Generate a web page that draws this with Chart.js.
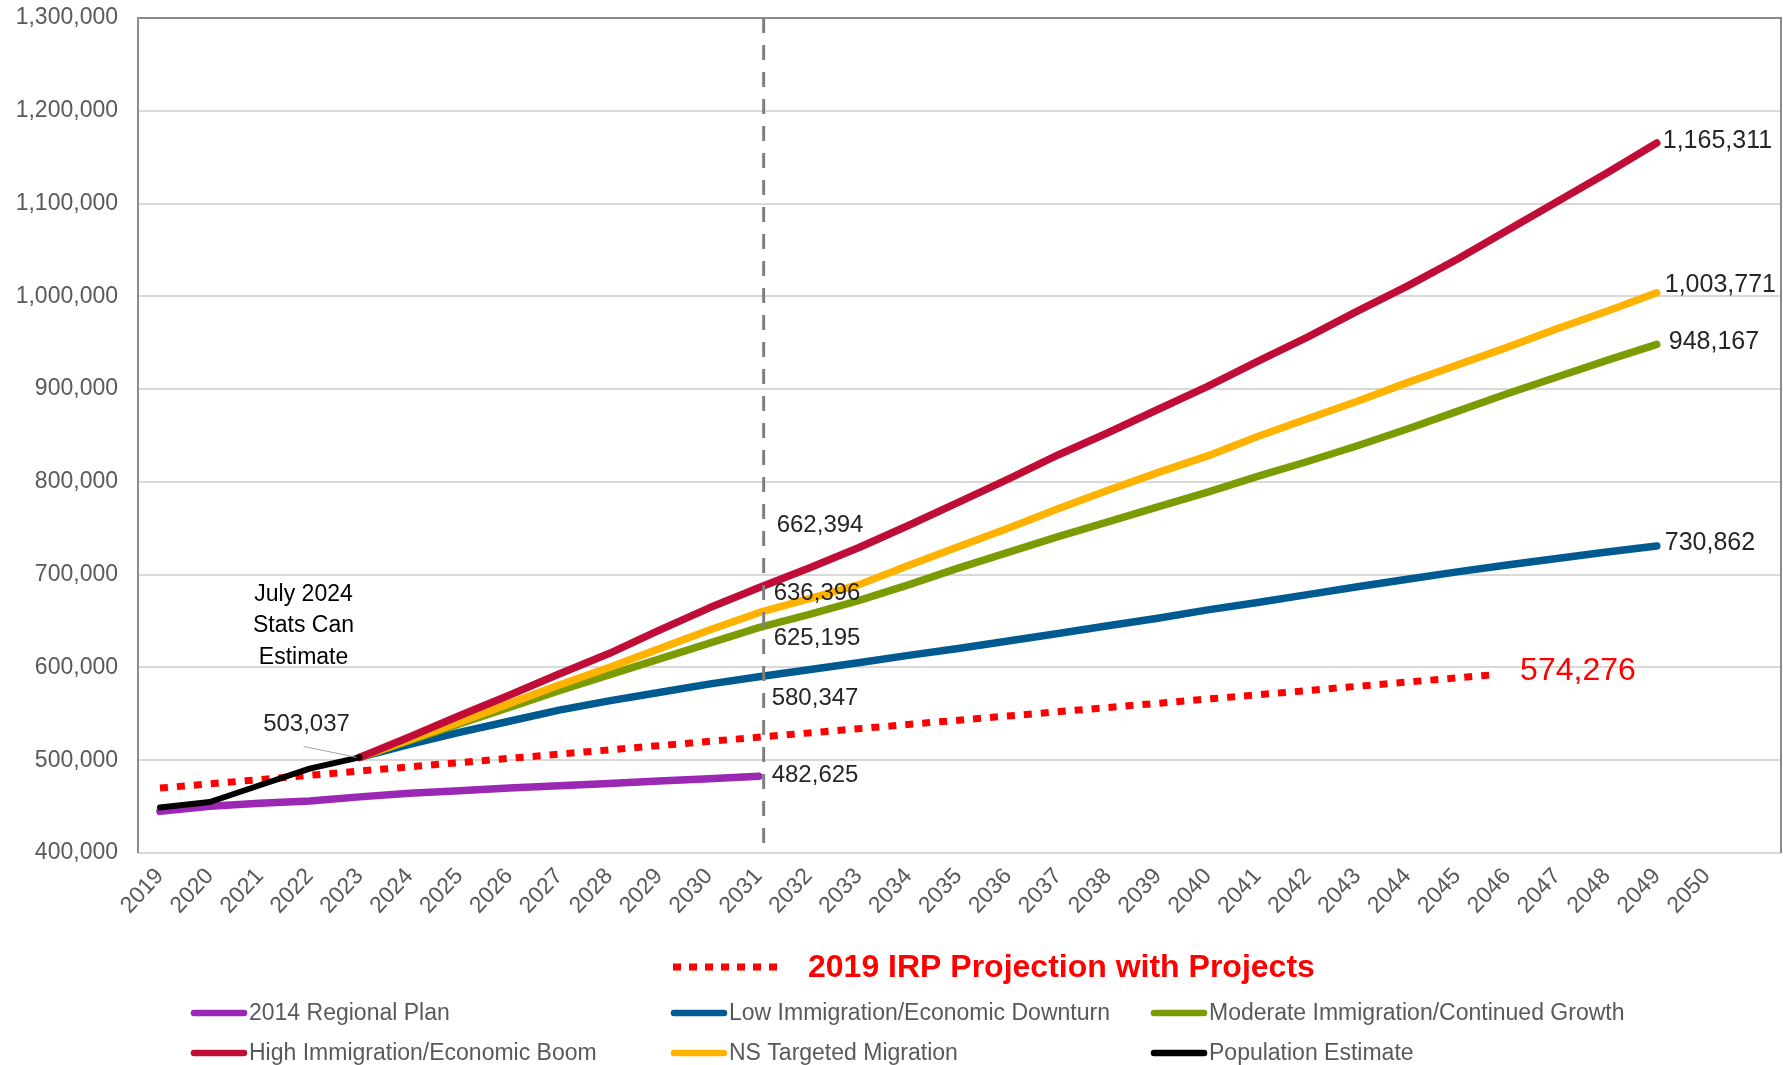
<!DOCTYPE html>
<html>
<head>
<meta charset="utf-8">
<title>Population projections</title>
<script src="https://cdn.jsdelivr.net/npm/chart.js@4.4.1/dist/chart.umd.min.js"></script>
<style>
  html, body { margin: 0; padding: 0; background: #fff; }
  #wrap { position: relative; width: 1783px; height: 1065px; }
</style>
</head>
<body>
<div id="wrap"><canvas id="popChart" width="1783" height="1065"></canvas></div>
<script>
// categories / tick labels
const years = [2019, 2020, 2021, 2022, 2023, 2024, 2025, 2026, 2027, 2028, 2029, 2030, 2031, 2032,
  2033, 2034, 2035, 2036, 2037, 2038, 2039, 2040, 2041, 2042, 2043, 2044, 2045, 2046, 2047, 2048, 2049, 2050];
const yTicks = [400000, 500000, 600000, 700000, 800000, 900000, 1000000, 1100000, 1200000, 1300000];

// 2014 regional plan, 2019-2031
const planYears = years.slice(0, 13);
const planValues = [445000, 450500, 453500, 456000, 460500, 464500, 467000, 470000, 472500, 475000, 477500, 480000, 482625];

// population estimate, 2019-2023
const estYears = years.slice(0, 5);
const estValues = [449000, 455000, 473000, 491000, 503037];

// projections, 2023-2049
const projYears = years.slice(4, 31);
const lowValues = [503037, 517000, 530000, 542000, 554000, 564000, 573000, 582000, 590000, 597500, 605000, 613000,
  620500, 628500, 636500, 645000, 653000, 662000, 670000, 678500, 687000, 695000, 703000, 710500, 717500, 724500, 730862];
const moderateValues = [503037, 521000, 539000, 557000, 575000, 592000, 609000, 626000, 643000, 657000, 672000, 689000,
  707000, 724000, 741000, 757000, 773000, 789000, 806000, 822000, 839000, 857000, 876000, 895000, 913000, 931000, 948167];
const highValues = [503037, 525000, 548000, 570000, 593000, 615000, 640000, 664000, 686000, 707000, 729000, 753000,
  778000, 803000, 829000, 853000, 878000, 903000, 930000, 956000, 984000, 1011000, 1040000, 1071000, 1102000, 1133000, 1165311];
const nsValues = [503037, 522000, 541000, 561000, 581000, 600000, 620000, 640000, 659000, 674000, 689000, 710000,
  730000, 750000, 771000, 791000, 810000, 828000, 849000, 868000, 887000, 907000, 926000, 945000, 965000, 984000, 1003771];

// 2019 IRP projection (straight dotted line, ends part way through 2045)
const irpYears = [2019, 2045.7];
const irpValues = [470000, 592000];

// numbers printed at the 2031 divider
const dividerYear = 2031.1;
const dividerLabels = ['662,394', '636,396', '625,195', '580,347', '482,625'];
const irpLabel = '574,276';

const FONT = "'Liberation Sans', Arial, sans-serif";
const fmt = v => v.toLocaleString('en-US');
const pts = (xs, ys) => xs.map((x, i) => ({ x: x, y: ys[i] }));

function line(label, xs, ys, color, extra) {
  return Object.assign({
    label: label,
    data: pts(xs, ys),
    borderColor: color,
    backgroundColor: color,
    borderWidth: 7.5,
    pointRadius: 0,
    tension: 0,
    fill: false,
    borderCapStyle: 'round',
    borderJoinStyle: 'round'
  }, extra || {});
}

const overlay = {
  id: 'overlay',
  afterDatasetsDraw(chart) {
    const { ctx, chartArea: a, scales: { x, y } } = chart;
    ctx.save();

    // plot frame
    ctx.strokeStyle = '#8c8c8c';
    ctx.lineWidth = 2;
    ctx.beginPath();
    ctx.moveTo(a.left, a.bottom);
    ctx.lineTo(a.left, a.top);
    ctx.lineTo(a.right, a.top);
    ctx.lineTo(a.right, a.bottom);
    ctx.stroke();

    // dashed divider
    const dx = x.getPixelForValue(dividerYear);
    ctx.strokeStyle = '#7f7f7f';
    ctx.lineWidth = 3;
    ctx.setLineDash([15, 12]);
    ctx.beginPath();
    ctx.moveTo(dx, a.top);
    ctx.lineTo(dx, a.bottom);
    ctx.stroke();
    ctx.setLineDash([]);

    ctx.textBaseline = 'middle';
    ctx.textAlign = 'left';
    ctx.fillStyle = '#262626';

    // end-of-line values
    ctx.font = '25px ' + FONT;
    chart.data.datasets.forEach(ds => {
      if (ds.endLabel === undefined) return;
      const last = ds.data[ds.data.length - 1];
      ctx.fillText(fmt(last.y), x.getPixelForValue(last.x) + ds.endLabel[0], y.getPixelForValue(last.y) + ds.endLabel[1]);
    });

    // labels beside the divider
    ctx.font = '24px ' + FONT;
    const offs = [[13, -235], [10, -167], [10, -122], [8, -62], [8, 15]];
    const baseY = y.getPixelForValue(yTicks[1]);
    dividerLabels.forEach((t, i) => ctx.fillText(t, dx + offs[i][0], baseY + offs[i][1]));

    // 503,037 callout and estimate note
    const p = { x: x.getPixelForValue(estYears[4]), y: y.getPixelForValue(estValues[4]) };
    ctx.strokeStyle = '#a6a6a6';
    ctx.lineWidth = 1;
    ctx.beginPath();
    ctx.moveTo(p.x - 3, p.y);
    ctx.lineTo(p.x - 56, p.y - 11);
    ctx.stroke();
    ctx.textAlign = 'center';
    ctx.fillText(fmt(estValues[4]), p.x - 53, p.y - 33);
    ctx.fillStyle = '#000';
    ctx.font = '23px ' + FONT;
    ['July 2024', 'Stats Can', 'Estimate'].forEach((t, i) => ctx.fillText(t, p.x - 56, p.y - 163 + i * 31.5));

    // IRP end value
    const q = { x: x.getPixelForValue(irpYears[1]), y: y.getPixelForValue(irpValues[1]) };
    ctx.textAlign = 'left';
    ctx.fillStyle = '#ff0000';
    ctx.font = '32px ' + FONT;
    ctx.fillText(irpLabel, q.x + 28, q.y - 4);
    ctx.restore();
  },
  afterDraw(chart) {
    const ctx = chart.ctx;
    ctx.save();
    ctx.textBaseline = 'middle';
    ctx.textAlign = 'left';

    const irp = chart.data.datasets.find(d => d.isIrp);
    ctx.strokeStyle = irp.borderColor;
    ctx.lineWidth = 7;
    ctx.setLineDash([8, 8]);
    ctx.beginPath();
    ctx.moveTo(673, 967);
    ctx.lineTo(781, 967);
    ctx.stroke();
    ctx.setLineDash([]);
    ctx.fillStyle = '#ff0000';
    ctx.font = 'bold 32px ' + FONT;
    ctx.fillText(irp.label, 808, 968);

    const cols = [191, 671, 1151];
    const rows = [1013, 1053];
    ctx.font = '23px ' + FONT;
    ctx.lineCap = 'round';
    let i = 0;
    chart.data.datasets.forEach(ds => {
      if (ds.isIrp) return;
      const cx = cols[i % 3], cy = rows[Math.floor(i / 3)];
      ctx.strokeStyle = ds.borderColor;
      ctx.lineWidth = 6.5;
      ctx.beginPath();
      ctx.moveTo(cx + 3, cy);
      ctx.lineTo(cx + 53, cy);
      ctx.stroke();
      ctx.fillStyle = '#595959';
      ctx.fillText(ds.label, cx + 58, cy + 1);
      i++;
    });
    ctx.restore();
  }
};

new Chart(document.getElementById('popChart'), {
  type: 'line',
  data: {
    datasets: [
      line('2014 Regional Plan', planYears, planValues, '#9b27b5', { order: 5 }),
      line('Low Immigration/Economic Downturn', projYears, lowValues, '#005a92', { order: 4, endLabel: [8, -3] }),
      line('Moderate Immigration/Continued Growth', projYears, moderateValues, '#7a9c02', { order: 3, endLabel: [12, -2] }),
      line('High Immigration/Economic Boom', projYears, highValues, '#c00d37', { order: 1, endLabel: [6, -2] }),
      line('NS Targeted Migration', projYears, nsValues, '#ffb300', { order: 2, endLabel: [8, -8] }),
      line('Population Estimate', estYears, estValues, '#000000', { order: 0, borderWidth: 6 }),
      line('2019 IRP Projection with Projects', irpYears, irpValues, '#ff0000',
        { order: 6, isIrp: true, borderWidth: 7, borderDash: [8, 9], borderCapStyle: 'butt' })
    ]
  },
  options: {
    responsive: false,
    animation: false,
    layout: { padding: { left: 0, top: 18, right: 2, bottom: 132 } },
    plugins: {
      legend: { display: false },
      tooltip: { enabled: false }
    },
    scales: {
      x: {
        type: 'linear',
        min: 2018.56,
        max: 2051.49,
        afterBuildTicks: s => { s.ticks = years.map(v => ({ value: v })); },
        afterFit: s => { s.height = 80; s.paddingLeft = 0; s.paddingRight = 0; },
        ticks: {
          autoSkip: false,
          minRotation: 47,
          maxRotation: 47,
          padding: 10,
          color: '#595959',
          font: { family: FONT, size: 23 },
          callback: v => String(v)
        },
        grid: { display: false, drawTicks: false },
        border: { display: false }
      },
      y: {
        min: 400000,
        max: 1300000,
        afterBuildTicks: s => { s.ticks = yTicks.map(v => ({ value: v })); },
        afterFit: s => { s.width = 138; s.paddingTop = 0; s.paddingBottom = 0; },
        ticks: {
          padding: 20,
          color: '#595959',
          font: { family: FONT, size: 23 },
          callback: v => fmt(v)
        },
        grid: { color: '#d9d9d9', lineWidth: 2, drawTicks: false },
        border: { display: false }
      }
    }
  },
  plugins: [overlay]
});
</script>
</body>
</html>
